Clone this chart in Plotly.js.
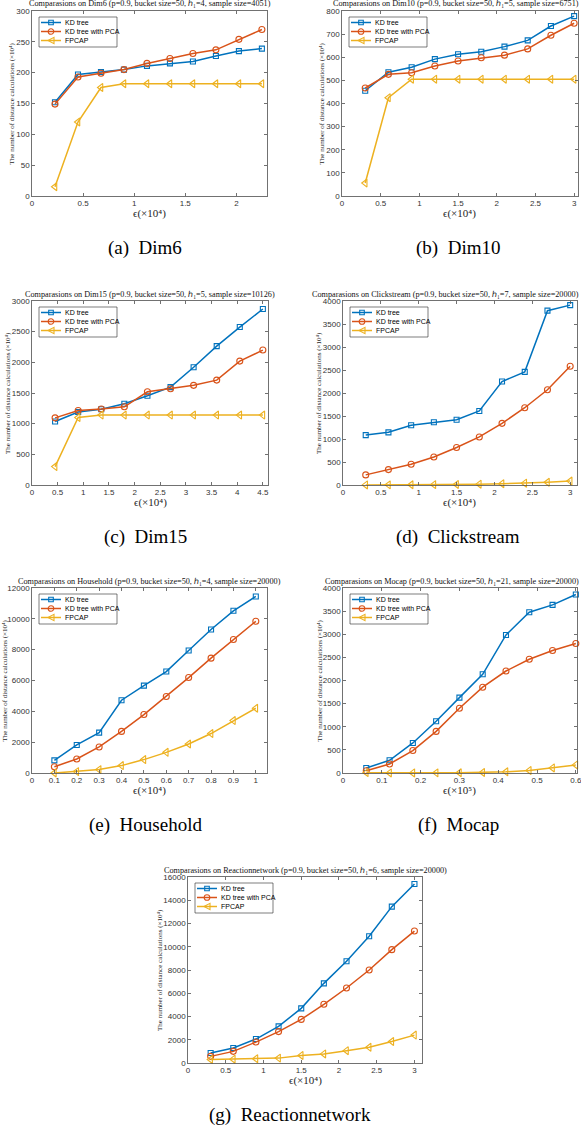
<!DOCTYPE html>
<html><head><meta charset="utf-8">
<script src="https://cdn.plot.ly/plotly-3.0.1.min.js"></script>
<style>html,body{margin:0;padding:0;background:#fff;}#chart{width:581px;height:1127px;}</style>
</head><body><div id="chart"></div>
<script>
// ---------------- data ----------------
const seriesNames = ['KD tree', 'KD tree with PCA', 'FPCAP'];

const dim6X   = [0.225, 0.45, 0.675, 0.9, 1.125, 1.35, 1.575, 1.8, 2.025, 2.25];
const dim6KD  = [152, 197, 201, 205, 211, 215, 218, 227, 235, 239];
const dim6PCA = [149, 193, 199, 205, 215, 223, 231, 237, 254, 270];
const dim6FP  = [15, 120, 176, 182, 182, 182, 182, 182, 182, 182];

const dim10X   = [0.3, 0.6, 0.9, 1.2, 1.5, 1.8, 2.1, 2.4, 2.7, 3.0];
const dim10KD  = [455, 535, 557, 592, 613, 624, 646, 673, 735, 778];
const dim10PCA = [467, 526, 533, 562, 584, 598, 609, 636, 695, 747];
const dim10FP  = [56, 425, 505, 505, 505, 505, 505, 505, 505, 505];

const dim15X   = [0.45, 0.9, 1.35, 1.8, 2.25, 2.7, 3.15, 3.6, 4.05, 4.5];
const dim15KD  = [1035, 1190, 1235, 1325, 1455, 1595, 1920, 2265, 2575, 2870];
const dim15PCA = [1095, 1215, 1240, 1275, 1520, 1570, 1625, 1710, 2020, 2200];
const dim15FP  = [300, 1100, 1140, 1140, 1140, 1140, 1140, 1140, 1140, 1140];

const clickX   = [0.3, 0.6, 0.9, 1.2, 1.5, 1.8, 2.1, 2.4, 2.7, 3.0];
const clickKD  = [1085, 1145, 1300, 1365, 1420, 1610, 2250, 2460, 3790, 3910];
const clickPCA = [220, 335, 450, 610, 815, 1045, 1340, 1680, 2070, 2580];
const clickFP  = [2, 3, 5, 8, 12, 18, 28, 40, 60, 85];

const houseX   = [0.1, 0.2, 0.3, 0.4, 0.5, 0.6, 0.7, 0.8, 0.9, 1.0];
const houseKD  = [820, 1820, 2620, 4720, 5670, 6580, 7950, 9310, 10520, 11450];
const housePCA = [410, 910, 1690, 2700, 3790, 4960, 6190, 7450, 8660, 9840];
const houseFP  = [0, 90, 220, 480, 870, 1340, 1880, 2560, 3400, 4200];

const mocapX   = [0.06, 0.12, 0.18, 0.24, 0.3, 0.36, 0.42, 0.48, 0.54, 0.6];
const mocapKD  = [108, 275, 650, 1120, 1630, 2135, 2985, 3475, 3635, 3860];
const mocapPCA = [50, 195, 485, 900, 1400, 1855, 2205, 2460, 2648, 2800];
const mocapFP  = [8, 2, 2, 3, 5, 12, 25, 55, 110, 175];

const reactX   = [0.3, 0.6, 0.9, 1.2, 1.5, 1.8, 2.1, 2.4, 2.7, 3.0];
const reactKD  = [860, 1290, 2060, 3150, 4700, 6850, 8750, 10900, 13450, 15400];
const reactPCA = [570, 1000, 1800, 2700, 3750, 5050, 6450, 8000, 9750, 11350];
const reactFP  = [300, 330, 370, 420, 650, 780, 1060, 1350, 1850, 2400];

// tick values
const ticksX6  = [0, 0.5, 1, 1.5, 2];
const ticksY6  = [0, 50, 100, 150, 200, 250, 300];
const ticksX10 = [0, 0.5, 1, 1.5, 2, 2.5, 3];
const ticksY10 = [0, 100, 200, 300, 400, 500, 600, 700, 800];
const ticksX15 = [0, 0.5, 1, 1.5, 2, 2.5, 3, 3.5, 4, 4.5];
const ticksY15 = [0, 500, 1000, 1500, 2000, 2500, 3000];
const ticksXcl = [0, 0.5, 1, 1.5, 2, 2.5, 3];
const ticksYcl = [0, 500, 1000, 1500, 2000, 2500, 3000, 3500, 4000];
const ticksXho = [0, 0.1, 0.2, 0.3, 0.4, 0.5, 0.6, 0.7, 0.8, 0.9, 1];
const ticksYho = [0, 2000, 4000, 6000, 8000, 10000, 12000];
const ticksXmo = [0, 0.1, 0.2, 0.3, 0.4, 0.5, 0.6];
const ticksYmo = [0, 500, 1000, 1500, 2000, 2500, 3000, 3500, 4000];
const ticksXre = [0, 0.5, 1, 1.5, 2, 2.5, 3];
const ticksYre = [0, 2000, 4000, 6000, 8000, 10000, 12000, 14000, 16000];

// ---------------- presentation ----------------
const colors  = ['#0072BD', '#D95319', '#EDB120'];
const symbols = ['square-open', 'circle-open', 'triangle-left-open'];
const msizes  = [5, 6, 7];
const supDigits = {'4': '⁴', '5': '⁵'};

const panels = [
  {tag:'(a)', name:'Dim6', h1:'4', ss:'4051', exp:'4', x:dim6X, ys:[dim6KD,dim6PCA,dim6FP], tx:ticksX6, ty:ticksY6, xr:[0,2.3], yr:[0,300], box:[32,11,267,196], cap:[145,248]},
  {tag:'(b)', name:'Dim10', h1:'5', ss:'6751', exp:'4', x:dim10X, ys:[dim10KD,dim10PCA,dim10FP], tx:ticksX10, ty:ticksY10, xr:[0,3.05], yr:[0,800], box:[342,11,578,196], cap:[458,248]},
  {tag:'(c)', name:'Dim15', h1:'5', ss:'10126', exp:'4', x:dim15X, ys:[dim15KD,dim15PCA,dim15FP], tx:ticksX15, ty:ticksY15, xr:[0,4.6], yr:[0,3000], box:[32,301,268,485], cap:[145,537]},
  {tag:'(d)', name:'Clickstream', h1:'7', ss:'20000', exp:'4', x:clickX, ys:[clickKD,clickPCA,clickFP], tx:ticksXcl, ty:ticksYcl, xr:[0,3.09], yr:[0,4000], box:[343,301,577,485], cap:[458,537]},
  {tag:'(e)', name:'Household', h1:'4', ss:'20000', exp:'4', x:houseX, ys:[houseKD,housePCA,houseFP], tx:ticksXho, ty:ticksYho, xr:[0,1.05], yr:[0,12000], box:[32,588,267,773], cap:[145,825]},
  {tag:'(f)', name:'Mocap', h1:'21', ss:'20000', exp:'5', x:mocapX, ys:[mocapKD,mocapPCA,mocapFP], tx:ticksXmo, ty:ticksYmo, xr:[0,0.603], yr:[0,4000], box:[343,588,577,773], cap:[458,825]},
  {tag:'(g)', name:'Reactionnetwork', h1:'6', ss:'20000', exp:'4', x:reactX, ys:[reactKD,reactPCA,reactFP], tx:ticksXre, ty:ticksYre, xr:[0,3.1], yr:[0,16000], box:[188,877,422,1063], cap:[290,1115]}
];

const W = 581, H = 1127;
const fx = p => p / W;
const fy = p => 1 - p / H;

const TITLE_SIZE = 8.2;
const measureCtx = document.createElement('canvas').getContext('2d');
measureCtx.font = TITLE_SIZE + 'px "Liberation Serif", serif';

const data = [];
const layout = {
  width: W, height: H,
  margin: {l:0, r:0, t:0, b:0},
  paper_bgcolor: '#fff', plot_bgcolor: '#fff',
  showlegend: false,
  annotations: [], shapes: []
};

const axisBase = {
  showline: true, mirror: 'ticks', linecolor: '#4d4d4d', linewidth: 0.8,
  ticks: 'inside', ticklen: 3, tickwidth: 0.8, tickcolor: '#4d4d4d',
  showgrid: false, zeroline: false, fixedrange: true, ticklabeloverflow: 'allow',
  tickfont: {family: 'Liberation Sans, Arial, sans-serif', size: 8, color: '#333'}
};

panels.forEach((p, i) => {
  const n = i === 0 ? '' : String(i + 1);
  const [L, T, R, B] = p.box;
  layout['xaxis' + n] = Object.assign({}, axisBase, {
    domain: [fx(L), fx(R)], anchor: 'y' + n, range: p.xr,
    tickvals: p.tx, ticktext: p.tx.map(String)
  });
  layout['yaxis' + n] = Object.assign({}, axisBase, {
    domain: [fy(B), fy(T)], anchor: 'x' + n, range: p.yr,
    tickvals: p.ty, ticktext: p.ty.map(String)
  });
  p.ys.forEach((yv, k) => {
    data.push({
      type: 'scatter', mode: 'lines+markers', name: seriesNames[k],
      x: p.x, y: yv, xaxis: 'x' + n, yaxis: 'y' + n, cliponaxis: false,
      line: {color: colors[k], width: 1.5},
      marker: {symbol: symbols[k], size: msizes[k], color: colors[k], line: {color: colors[k], width: 1.1}}
    });
  });
  const cx = (L + R) / 2;
  // title (kept inside the page when it would run past the right edge)
  const titleText = 'Comparasions on ' + p.name + ' (p=0.9, bucket size=50, ℎ₁=' + p.h1 + ', sample size=' + p.ss + ')';
  const tw = measureCtx.measureText(titleText).width;
  const tcx = Math.min(cx, W - 2 - tw / 2);
  layout.annotations.push({
    xref:'paper', yref:'paper', x: fx(tcx), y: fy(T - 7), xanchor:'center', yanchor:'middle', showarrow:false,
    text: titleText,
    font: {family:'Liberation Serif, serif', size: TITLE_SIZE, color:'#111'}
  });
  // y title
  const digits = String(p.yr[1]).length;
  layout.annotations.push({
    xref:'paper', yref:'paper', x: fx(L - (8 + 4 * digits)), y: fy((T + B) / 2), xanchor:'center', yanchor:'middle', showarrow:false,
    textangle: -90,
    text: 'The number of distance calculations (×10⁴)',
    font: {family:'Liberation Serif, serif', size: 7, color:'#262626'}
  });
  // x title
  layout.annotations.push({
    xref:'paper', yref:'paper', x: fx(cx), y: fy(B + 17), xanchor:'center', yanchor:'middle', showarrow:false,
    text: 'ϵ(×10' + supDigits[p.exp] + ')',
    font: {family:'Liberation Serif, serif', size: 11, color:'#262626'}
  });
  // caption
  layout.annotations.push({
    xref:'paper', yref:'paper', x: fx(p.cap[0]), y: fy(p.cap[1]), xanchor:'center', yanchor:'middle', showarrow:false,
    text: p.tag + '  ' + p.name,
    font: {family:'Liberation Serif, Times New Roman, serif', size: 19, color:'#000'}
  });
  // legend (box in the top-left corner of each panel)
  const bx0 = L + 7, by0 = T + 6, bx1 = L + 85, by1 = T + 36;
  layout.shapes.push({type:'rect', xref:'paper', yref:'paper', x0: fx(bx0), x1: fx(bx1), y0: fy(by0), y1: fy(by1),
    line:{color:'#262626', width:0.6}, fillcolor:'#fff', layer:'above'});
  seriesNames.forEach((nm, k) => {
    const cy = by0 + 5.5 + 9 * k;
    const mx = bx0 + 12;
    layout.shapes.push({type:'line', xref:'paper', yref:'paper', x0: fx(bx0 + 2), x1: fx(bx0 + 22), y0: fy(cy), y1: fy(cy),
      line:{color: colors[k], width:1.5}, layer:'above'});
    if (k === 0) {
      layout.shapes.push({type:'rect', xref:'paper', yref:'paper', x0: fx(mx - 2.3), x1: fx(mx + 2.3), y0: fy(cy - 2.3), y1: fy(cy + 2.3),
        line:{color: colors[k], width:1.1}, fillcolor:'rgba(0,0,0,0)', layer:'above'});
    } else if (k === 1) {
      layout.shapes.push({type:'circle', xref:'paper', yref:'paper', x0: fx(mx - 2.8), x1: fx(mx + 2.8), y0: fy(cy - 2.8), y1: fy(cy + 2.8),
        line:{color: colors[k], width:1.1}, fillcolor:'rgba(0,0,0,0)', layer:'above'});
    } else {
      const path = 'M' + fx(mx - 3) + ',' + fy(cy) + ' L' + fx(mx + 3) + ',' + fy(cy - 3.2) + ' L' + fx(mx + 3) + ',' + fy(cy + 3.2) + ' Z';
      layout.shapes.push({type:'path', xref:'paper', yref:'paper', path: path,
        line:{color: colors[k], width:1.1}, fillcolor:'rgba(0,0,0,0)', layer:'above'});
    }
    layout.annotations.push({
      xref:'paper', yref:'paper', x: fx(bx0 + 24), y: fy(cy), xanchor:'left', yanchor:'middle', showarrow:false,
      text: nm, font: {family:'Liberation Sans, Arial, sans-serif', size: 7, color:'#000'}
    });
  });
});

Plotly.newPlot('chart', data, layout, {displayModeBar: false, staticPlot: true});
</script>
</body></html>
